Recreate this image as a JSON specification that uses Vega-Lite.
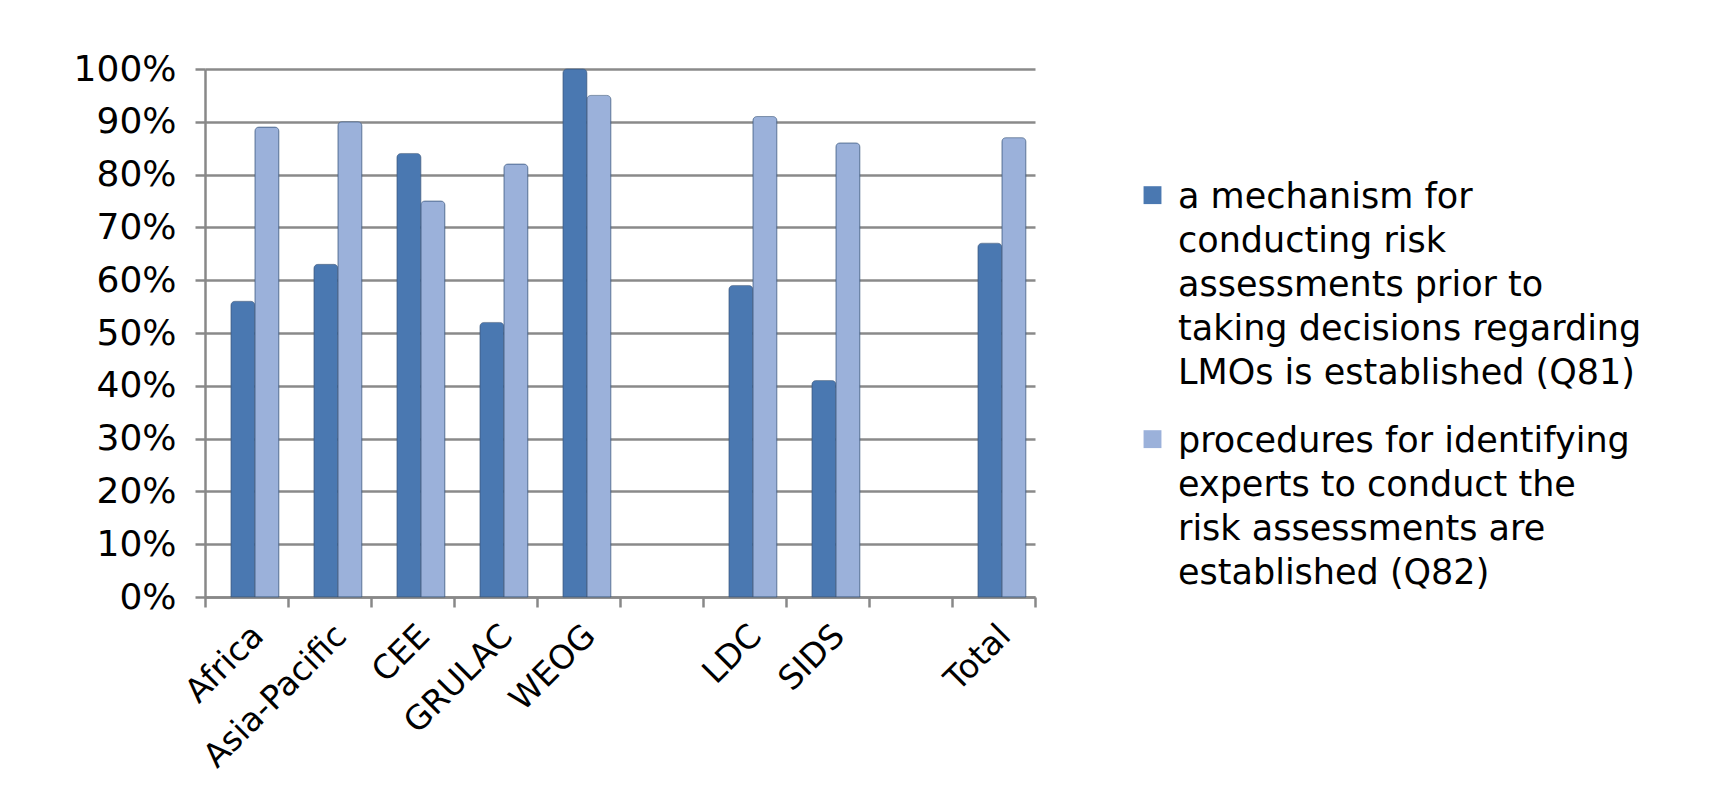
{
  "$schema": "https://vega.github.io/schema/vega-lite/v6.json",
  "width": 830,
  "height": 528,
  "autosize": {"type": "none"},
  "padding": {"left": 205, "top": 69, "right": 688, "bottom": 201},
  "background": "white",
  "config": {"view": {"stroke": null}, "font": "DejaVu Sans"},
  "data": {
    "values": [
      {"region": "Africa", "series": "a mechanism for conducting risk assessments prior to taking decisions regarding LMOs is established (Q81)", "pct": 0.56},
      {"region": "Africa", "series": "procedures for identifying experts to conduct the risk assessments are established (Q82)", "pct": 0.89},
      {"region": "Asia-Pacific", "series": "a mechanism for conducting risk assessments prior to taking decisions regarding LMOs is established (Q81)", "pct": 0.63},
      {"region": "Asia-Pacific", "series": "procedures for identifying experts to conduct the risk assessments are established (Q82)", "pct": 0.90},
      {"region": "CEE", "series": "a mechanism for conducting risk assessments prior to taking decisions regarding LMOs is established (Q81)", "pct": 0.84},
      {"region": "CEE", "series": "procedures for identifying experts to conduct the risk assessments are established (Q82)", "pct": 0.75},
      {"region": "GRULAC", "series": "a mechanism for conducting risk assessments prior to taking decisions regarding LMOs is established (Q81)", "pct": 0.52},
      {"region": "GRULAC", "series": "procedures for identifying experts to conduct the risk assessments are established (Q82)", "pct": 0.82},
      {"region": "WEOG", "series": "a mechanism for conducting risk assessments prior to taking decisions regarding LMOs is established (Q81)", "pct": 1.00},
      {"region": "WEOG", "series": "procedures for identifying experts to conduct the risk assessments are established (Q82)", "pct": 0.95},
      {"region": "LDC", "series": "a mechanism for conducting risk assessments prior to taking decisions regarding LMOs is established (Q81)", "pct": 0.59},
      {"region": "LDC", "series": "procedures for identifying experts to conduct the risk assessments are established (Q82)", "pct": 0.91},
      {"region": "SIDS", "series": "a mechanism for conducting risk assessments prior to taking decisions regarding LMOs is established (Q81)", "pct": 0.41},
      {"region": "SIDS", "series": "procedures for identifying experts to conduct the risk assessments are established (Q82)", "pct": 0.86},
      {"region": "Total", "series": "a mechanism for conducting risk assessments prior to taking decisions regarding LMOs is established (Q81)", "pct": 0.67},
      {"region": "Total", "series": "procedures for identifying experts to conduct the risk assessments are established (Q82)", "pct": 0.87}
    ]
  },
  "mark": {
    "type": "bar",
    "stroke": "#3d5a80",
    "strokeOpacity": 0.6,
    "strokeWidth": 1,
    "cornerRadiusTopLeft": 4,
    "cornerRadiusTopRight": 4
  },
  "encoding": {
    "x": {
      "field": "region",
      "type": "nominal",
      "scale": {
        "domain": ["Africa", "Asia-Pacific", "CEE", "GRULAC", "WEOG", " ", "LDC", "SIDS", "  ", "Total"],
        "paddingInner": 0,
        "paddingOuter": 0
      },
      "axis": {
        "title": null,
        "labelAngle": -45,
        "labelFontSize": 33,
        "labelColor": "black",
        "labelPadding": 12,
        "labelLimit": 400,
        "tickBand": "extent",
        "tickSize": 10,
        "tickColor": "#888888",
        "tickWidth": 2.5,
        "domainColor": "#888888",
        "domainWidth": 2.5,
        "grid": false
      }
    },
    "xOffset": {
      "field": "series",
      "type": "nominal",
      "scale": {"paddingInner": 0, "paddingOuter": 0.73, "align": 0.74}
    },
    "y": {
      "field": "pct",
      "type": "quantitative",
      "scale": {"domain": [0, 1]},
      "axis": {
        "title": null,
        "values": [0, 0.1, 0.2, 0.3, 0.4, 0.5, 0.6, 0.7, 0.8, 0.9, 1],
        "format": ".0%",
        "labelFontSize": 36,
        "labelColor": "black",
        "labelPadding": 19,
        "tickSize": 10,
        "tickColor": "#888888",
        "tickWidth": 2.5,
        "domainColor": "#888888",
        "domainWidth": 2.5,
        "grid": true,
        "gridColor": "#8a8a8a",
        "gridWidth": 2.5
      }
    },
    "color": {
      "field": "series",
      "type": "nominal",
      "scale": {
        "domain": [
          "a mechanism for conducting risk assessments prior to taking decisions regarding LMOs is established (Q81)",
          "procedures for identifying experts to conduct the risk assessments are established (Q82)"
        ],
        "range": ["#4a78b1", "#9bb1da"]
      },
      "legend": {
        "title": null,
        "orient": "none",
        "legendX": 930,
        "legendY": 93,
        "labelFontSize": 35,
        "labelColor": "black",
        "labelBaseline": "top",
        "labelOffset": 8,
        "labelLimit": 700,
        "rowPadding": 15,
        "symbolType": "M-1,0.75H1V2.75H-1Z",
        "symbolSize": 320,
        "symbolStrokeWidth": 0,
        "labelExpr": "datum.label == 'a mechanism for conducting risk assessments prior to taking decisions regarding LMOs is established (Q81)' ? ['a mechanism for', 'conducting risk', 'assessments prior to', 'taking decisions regarding', 'LMOs is established (Q81)'] : ['procedures for identifying', 'experts to conduct the', 'risk assessments are', 'established (Q82)']",
        "encoding": {"labels": {"lineHeight": {"value": 44}}}
      }
    }
  }
}
